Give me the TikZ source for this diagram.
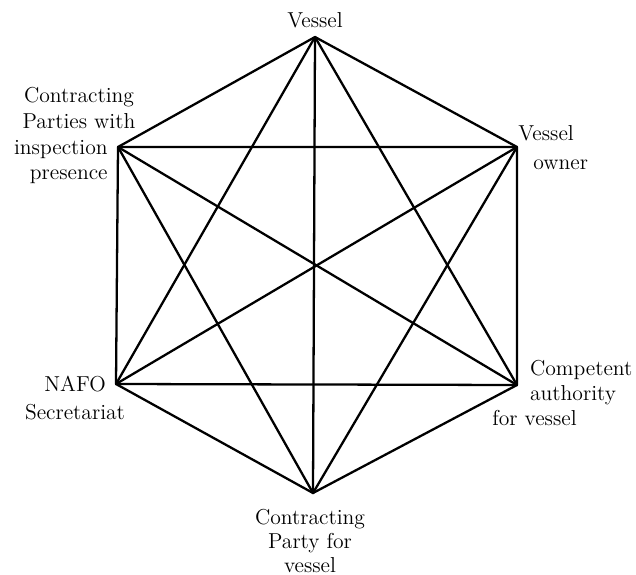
\documentclass[tikz,border=0pt]{standalone}
\usepackage{tikz}

\begin{document}
\begin{tikzpicture}[
    x=0.02cm,y=-0.02cm,
    lbl/.style={font=\fontsize{12.3}{14.5}\selectfont,inner sep=0pt},
    wide/.style={font=\fontsize{12.3}{16.4}\selectfont},
    link/.style={line width=1.3pt,line join=round,line cap=round}
  ]
    \useasboundingbox (0,0) rectangle (636,575);

    % corners of the hexagon
    \coordinate (ves) at (315,37);
    \coordinate (own) at (517,147);
    \coordinate (cau) at (517,385);
    \coordinate (cpv) at (313,493);
    \coordinate (naf) at (116,384);
    \coordinate (cpi) at (118,147);

    % labels
    \node[lbl] (vesL) at (315,20) {Vessel};
    \node[lbl,wide,align=left,anchor=west] (ownL) at (518,148)
      {Vessel\\\hspace*{8.5pt}owner};
    \node[lbl,align=left,anchor=west] (cauL) at (492,393)
      {\hspace*{21.5pt}Competent\\\hspace*{21.5pt}authority\\for vessel};
    \node[lbl,font=\fontsize{12.3}{13.8}\selectfont,align=center] (cpvL) at (310,541)
      {Contracting\\Party for\\vessel};
    \node[lbl,wide,align=center] (nafL) at (75,398) {NAFO\\Secretariat};
    \node[lbl,align=center] (cpiA) at (79,108) {Contracting\\Parties with};
    \node[lbl,align=right,anchor=east] (cpiB) at (108,162) {inspection\\presence};

    % every pair is linked
    \draw[link] (ves) -- (own) -- (cau) -- (cpv) -- (naf) -- (cpi) -- cycle;
    \draw[link] (ves) -- (cau) -- (naf) -- cycle;
    \draw[link] (cpi) -- (own) -- (cpv) -- cycle;
    \draw[link] (ves) -- (cpv);
    \draw[link] (cpi) -- (cau);
    \draw[link] (own) -- (naf);
  \end{tikzpicture}
\end{document}
